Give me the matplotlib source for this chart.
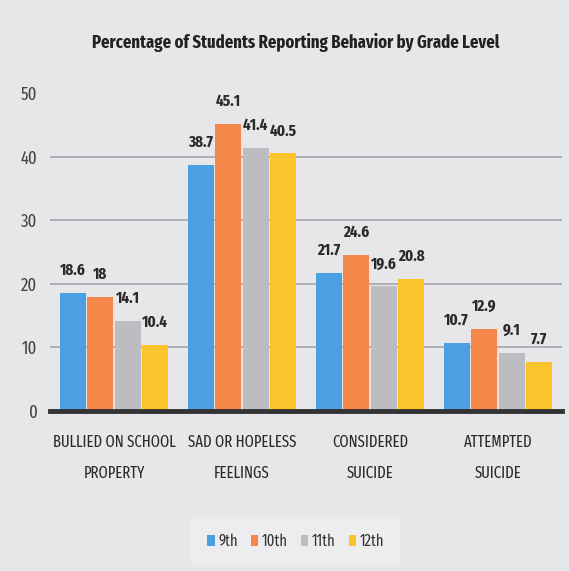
import numpy as np
import matplotlib.pyplot as plt
from matplotlib.patches import Patch

# dados
categorias = ["BULLIED ON SCHOOL\nPROPERTY", "SAD OR HOPELESS\nFEELINGS",
              "CONSIDERED\nSUICIDE", "ATTEMPTED\nSUICIDE"]
series = ["9th", "10th", "11th", "12th"]
v_9th = [18.6, 38.7, 21.7, 10.7]
v_10th = [18, 45.1, 24.6, 12.9]
v_11th = [14.1, 41.4, 19.6, 9.1]
v_12th = [10.4, 40.5, 20.8, 7.7]

cores = ["#4ba0e1", "#f6874a", "#bdbdc1", "#fcc42c"]
fundo = "#e7e7ea"

plt.rcParams['font.family'] = ['Fira Sans Extra Condensed', 'Roboto Condensed', 'DejaVu Sans']

fig = plt.figure(figsize=(5.69, 5.71), dpi=100, facecolor=fundo)
ax = fig.add_axes([0.0879, 0.2802, 0.8998, 0.5568])
ax.set_facecolor(fundo)

x = np.arange(len(categorias))
passo = 0.215
larg = 0.205
valores = [v_9th, v_10th, v_11th, v_12th]

for i, (nome, vals) in enumerate(zip(series, valores)):
    pos = x + (i - 1.5) * passo
    barras = ax.bar(pos, vals, larg, color=cores[i], label=nome, zorder=3)
    for b, v in zip(barras, vals):
        ax.text(b.get_x() + b.get_width() / 2, v + 2.3, f"{v:g}", ha='center', va='bottom',
                fontsize=11.8, fontweight='bold', color='#2a2a2a')

ax.set_xlim(-0.5, 3.5)
ax.set_ylim(0, 50)
ax.set_yticks([0, 10, 20, 30, 40, 50])
ax.set_xticks(x)
ax.set_xticklabels(categorias, fontsize=11.5, color='#2a2a2a', linespacing=2.15)
ax.tick_params(axis='y', labelsize=13, colors='#444444', length=0, pad=9)
ax.tick_params(axis='x', length=0, pad=17)

ax.yaxis.grid(True, color='#a4a4ac', linewidth=1.2, zorder=0)
ax.get_ygridlines()[-1].set_visible(False)
ax.get_ygridlines()[0].set_visible(False)
for s in ['top', 'right', 'left']:
    ax.spines[s].set_visible(False)
ax.spines['bottom'].set_color('#333333')
ax.spines['bottom'].set_linewidth(3.5)
ax.spines['bottom'].set_zorder(4)

fig.suptitle("Percentage of Students Reporting Behavior by Grade Level",
             x=0.52, y=0.942, fontsize=13, fontweight='bold', color='#222222')

handles = [Patch(facecolor=c, label=n) for c, n in zip(cores, series)]
leg = fig.legend(handles=handles, loc='center', bbox_to_anchor=(0.52, 0.052), ncol=4,
                 frameon=True, fontsize=11.5, handlelength=0.45, handleheight=0.7,
                 handletextpad=0.25, columnspacing=0.8, borderpad=1.0)
leg.get_frame().set_facecolor('#efeff1')
leg.get_frame().set_edgecolor('none')
for t in leg.get_texts():
    t.set_color('#333333')

fig.savefig("out.png", dpi=100, facecolor=fundo)
